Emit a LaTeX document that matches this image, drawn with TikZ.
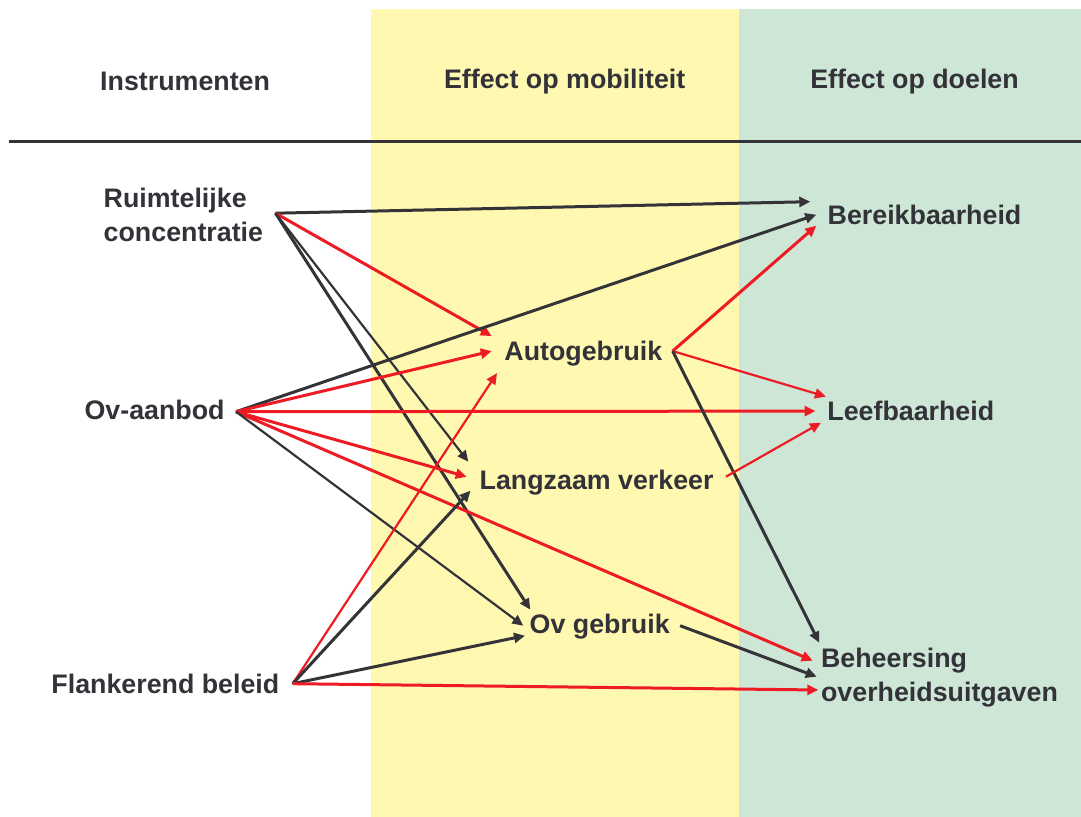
\documentclass[tikz,border=0pt]{standalone}
\usepackage{fontspec}
\setmainfont{Liberation Sans}
\usetikzlibrary{arrows.meta,calc}

\definecolor{txtgray}{RGB}{50,50,56}
\definecolor{arrgray}{RGB}{52,52,56}
\definecolor{arrred}{RGB}{237,28,36}
\definecolor{bandyellow}{RGB}{255,248,176}
\definecolor{bandgreen}{RGB}{205,230,214}

\begin{document}
\begin{tikzpicture}[x=0.5pt,y=-0.5pt,
  lbl/.style={inner sep=0pt,text=txtgray,font=\fontsize{13.4}{17}\selectfont\bfseries},
  one/.style={lbl,text height=9.6pt,text depth=0pt},
  blk/.style={draw=arrgray,line width=1.5pt,-{Triangle[length=5.5pt,width=5pt]}},
  rd/.style={draw=arrred,line width=1.5pt,-{Triangle[length=5.5pt,width=5pt]}},
  thn/.style={line width=1.1pt}]
\useasboundingbox (0,0) rectangle (1081,817);

% bands
\fill[bandyellow] (371,9) rectangle (739,817);
\fill[bandgreen] (739,9) rectangle (1081,817);
\draw[arrgray,line width=1.4pt] (9,141.3) -- (1081,141.3);

% headers
\node[one,anchor=base] (hinstr) at (185.1,90.7) {Instrumenten};
\node[one,anchor=base] (hmob) at (564.7,88.3) {Effect op mobiliteit};
\node[one,anchor=base] (hdoel) at (914.5,88.3) {Effect op doelen};

% instrumenten
\node[lbl,align=left,anchor=north west] (ruim) at (103.3,187.2) {Ruimtelijke\\concentratie};
\node[one,anchor=base east] (ova) at (225,419.3) {Ov-aanbod};
\node[one,anchor=base east] (flank) at (279.7,693.3) {Flankerend beleid};

% mobiliteit
\node[one,anchor=base west] (auto) at (504,360.7) {Autogebruik};
\node[one,anchor=base west] (lang) at (479.3,489.3) {Langzaam verkeer};
\node[one,anchor=base west] (ovg) at (529.3,633.3) {Ov gebruik};

% doelen
\node[one,anchor=base west] (ber) at (827.3,224.3) {Bereikbaarheid};
\node[one,anchor=base west] (leef) at (827,420.7) {Leefbaarheid};
\node[lbl,align=left,anchor=north west] (beh) at (820.7,647.3) {Beheersing\\overheidsuitgaven};

\path (ruim.north east) ++(12,26) coordinate (ruim-o);
\path (ova.east) ++(11,2) coordinate (ova-o);
\path (flank.east) ++(13,0) coordinate (flank-o);
\path (auto.east) ++(10,0) coordinate (auto-o);
\path (lang.east) ++(12,-3) coordinate (lang-o);
\path (ovg.east) ++(10,2) coordinate (ovg-o);

% ruimtelijke concentratie
\draw[blk] (ruim-o) -- ($(ber.west)+(-17,-13)$);
\draw[rd] (ruim-o) -- ($(auto.west)+(-12.3,-15)$);
\draw[blk,thn] (ruim-o) -- ($(lang.west)+(-11,-18)$);
\draw[blk] (ruim-o) -- ($(ovg.west)+(1,-14)$);

% ov-aanbod
\draw[blk] (ova-o) -- ($(ber.west)+(-11,0)$);
\draw[rd] (ova-o) -- ($(auto.west)+(-12.3,0)$);
\draw[rd] (ova-o) -- ($(leef.west)+(-11.5,0)$);
\draw[rd] (ova-o) -- ($(lang.west)+(-12.6,-3)$);
\draw[rd] (ova-o) -- ($(beh.north west)+(-8,13.4)$);
\draw[blk,thn] (ova-o) -- ($(ovg.west)+(-6,2)$);

% flankerend beleid
\draw[rd,thn] (flank-o) -- ($(auto.west)+(-7,22)$);
\draw[blk] (flank-o) -- ($(lang.west)+(-8.8,11)$);
\draw[blk] (flank-o) -- ($(ovg.west)+(-4.3,12)$);
\draw[rd] (flank-o) -- ($(beh.north west)+(-2.4,42.7)$);

% effecten mobiliteit
\draw[rd] (auto-o) -- ($(ber.west)+(-11,11)$);
\draw[rd,thn] (auto-o) -- ($(leef.west)+(-1,-14.5)$);
\draw[blk] (auto-o) -- ($(beh.north west)+(-1.4,-4.6)$);
\draw[rd,thn] (lang-o) -- ($(leef.west)+(-6,11.6)$);
\draw[blk] (ovg-o) -- ($(beh.north west)+(-4,29.4)$);

\end{tikzpicture}
\end{document}
